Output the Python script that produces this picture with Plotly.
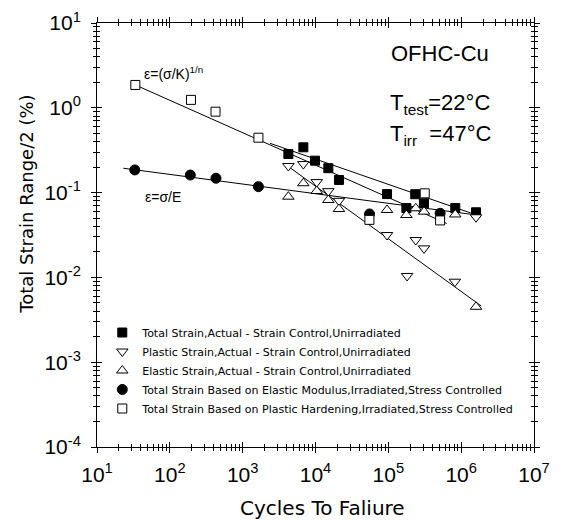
import plotly.graph_objects as go

# ---- data ----
tick_vals_x = [1e1, 1e2, 1e3, 1e4, 1e5, 1e6, 1e7]
tick_text_x = ["10<sup>1</sup>", "10<sup>2</sup>", "10<sup>3</sup>", "10<sup>4</sup>",
               "10<sup>5</sup>", "10<sup>6</sup>", "10<sup>7</sup>"]
tick_vals_y = [1e-4, 1e-3, 1e-2, 1e-1, 1e0, 1e1]
tick_text_y = ["10<sup>-4</sup>", "10<sup>-3</sup>", "10<sup>-2</sup>", "10<sup>-1</sup>",
               "10<sup>0</sup>", "10<sup>1</sup>"]

# Total strain, actual - strain control, unirradiated (filled squares)
tot_N = [4240, 6810, 9840, 1.50e4, 2.10e4, 9.6e4, 2.34e5, 1.77e5, 3.08e5, 8.3e5, 1.60e6]
tot_e = [0.285, 0.342, 0.238, 0.194, 0.141, 0.096, 0.0957, 0.0657, 0.0748, 0.0657, 0.0586]

# Plastic strain, actual (down triangles)
pla_N = [4240, 6810, 1.04e4, 1.50e4, 2.10e4, 9.6e4, 2.38e5, 3.09e5, 1.81e5, 8.2e5, 1.60e6]
pla_e = [0.206, 0.217, 0.133, 0.104, 0.080, 0.0316, 0.0276, 0.0220, 0.0104, 0.0089, 0.0512]

# Elastic strain, actual (up triangles)
ela_N = [4240, 6810, 1.04e4, 1.50e4, 2.10e4, 9.6e4, 1.77e5, 2.38e5, 3.09e5, 8.3e5, 1.60e6]
ela_e = [0.0895, 0.129, 0.1045, 0.0818, 0.064, 0.0624, 0.0544, 0.0653, 0.0596, 0.0552, 0.0045]

# Total strain based on elastic modulus, irradiated (filled circles)
emod_N = [33, 191, 430, 1645, 5.52e4, 5.14e5]
emod_e = [0.185, 0.161, 0.1476, 0.1175, 0.056, 0.057]

# Total strain based on plastic hardening, irradiated (open squares)
phard_N = [33.6, 195, 424, 1645, 3.16e5, 5.5e4, 5.14e5]
phard_e = [1.86, 1.24, 0.90, 0.444, 0.098, 0.0477, 0.047]

# Fit lines (end points)
fitK_N = [33.6, 6.33e5]
fitK_e = [1.86, 0.0432]
fitTot_N = [2380, 1.63e6]
fitTot_e = [0.381, 0.0544]
fitE_N = [23, 1.63e6]
fitE_e = [0.1937, 0.0544]
fitPla_N = [4240, 1.89e6]
fitPla_e = [0.203, 0.0046]

series_names = [
    "Total Strain,Actual - Strain Control,Unirradiated",
    "Plastic Strain,Actual - Strain Control,Unirradiated",
    "Elastic Strain,Actual - Strain Control,Unirradiated",
    "Total Strain Based on Elastic Modulus,Irradiated,Stress Controlled",
    "Total Strain Based on Plastic Hardening,Irradiated,Stress Controlled",
]

FONT = "Liberation Sans"
WIDE = "DejaVu Sans"
fig = go.Figure()

# fit lines on base axes (drawn below markers)
for xs, ys in [(fitK_N, fitK_e), (fitTot_N, fitTot_e), (fitE_N, fitE_e), (fitPla_N, fitPla_e)]:
    fig.add_trace(go.Scatter(x=xs, y=ys, mode="lines", line=dict(color="black", width=1),
                             showlegend=False, hoverinfo="skip", xaxis="x", yaxis="y"))

mk_line = dict(color="black", width=1)
marker_specs = [
    (tot_N, tot_e, dict(symbol="square", size=9, color="black", line=mk_line)),
    (pla_N, pla_e, dict(symbol="triangle-down", size=10, color="white", line=mk_line)),
    (ela_N, ela_e, dict(symbol="triangle-up", size=10, color="white", line=mk_line)),
    (emod_N, emod_e, dict(symbol="circle", size=10, color="black", line=mk_line)),
    (phard_N, phard_e, dict(symbol="square", size=9, color="white", line=mk_line)),
]
for (xs, ys, mk), name in zip(marker_specs, series_names):
    fig.add_trace(go.Scatter(x=xs, y=ys, mode="markers", marker=mk, name=name,
                             xaxis="x2", yaxis="y2"))

common_x = dict(type="log", range=[1, 7], showgrid=False, zeroline=False,
                showline=True, linecolor="black", linewidth=1, mirror="ticks",
                tickvals=tick_vals_x, tickcolor="black", tickwidth=1)
common_y = dict(type="log", range=[-4, 1], showgrid=False, zeroline=False,
                showline=True, linecolor="black", linewidth=1, mirror="ticks",
                tickvals=tick_vals_y, tickcolor="black", tickwidth=1)

fig.update_layout(
    width=564, height=522,
    margin=dict(l=96.5, r=29.5, t=23, b=75, autoexpand=False),
    paper_bgcolor="white", plot_bgcolor="white",
    font=dict(family=FONT, color="black"),
    xaxis=dict(**common_x, ticks="outside", ticklen=5, ticktext=tick_text_x,
               tickfont=dict(size=21, family=FONT), ticklabelstandoff=4,
               minor=dict(ticks="outside", ticklen=3, dtick="D1", tickcolor="black", showgrid=False)),
    yaxis=dict(**common_y, ticks="outside", ticklen=5, ticktext=tick_text_y,
               tickfont=dict(size=21, family=FONT), ticklabelstandoff=6,
               minor=dict(ticks="outside", ticklen=3, dtick="D1", tickcolor="black", showgrid=False)),
    xaxis2=dict(**common_x, overlaying="x", anchor="y2", side="bottom", ticks="inside", ticklen=5,
                showticklabels=False,
                minor=dict(ticks="inside", ticklen=3, dtick="D1", tickcolor="black", showgrid=False)),
    yaxis2=dict(**common_y, overlaying="y", anchor="x2", side="left", ticks="inside", ticklen=5,
                showticklabels=False,
                minor=dict(ticks="inside", ticklen=3, dtick="D1", tickcolor="black", showgrid=False)),
    legend=dict(x=0.0121, y=(447 - 318) / 424, xanchor="left", yanchor="top",
                bgcolor="rgba(0,0,0,0)",
                font=dict(size=11, family=WIDE), itemwidth=30, tracegroupgap=0),
    showlegend=True,
)

ann = [
    dict(text="ε=(σ/K)<sup>1/n</sup>", x=(142 - 96.5) / 438, y=(447 - 73) / 424, size=14),
    dict(text="ε=σ/E", x=(143 - 96.5) / 438, y=(447 - 197) / 424, size=14),
    dict(text="OFHC-Cu", x=(389 - 96.5) / 438, y=(447 - 54) / 424, size=22),
    dict(text="T<sub>test</sub>=22°C", x=(388 - 96.5) / 438, y=(447 - 104) / 424, size=22),
    dict(text="T<sub>irr</sub>  =47°C", x=(388 - 96.5) / 438, y=(447 - 135) / 424, size=22),
]
for a in ann:
    fig.add_annotation(text=a["text"], x=a["x"], y=a["y"], xref="paper", yref="paper",
                       xanchor="left", yanchor="middle", showarrow=False,
                       font=dict(size=a["size"], family=FONT, color="black"))

fig.add_annotation(text="Cycles To Faliure", x=(322.5 - 96.5) / 438, y=(447 - 508) / 424,
                   xref="paper", yref="paper", xanchor="center", yanchor="middle",
                   showarrow=False, font=dict(size=20, family=WIDE, color="black"))
fig.add_annotation(text="Total Strain Range/2 (%)", x=(25 - 96.5) / 438, y=(447 - 204) / 424,
                   xref="paper", yref="paper", xanchor="center", yanchor="middle", textangle=-90,
                   showarrow=False, font=dict(size=18, family=WIDE, color="black"))

fig.write_html("out.html", config={"displayModeBar": False},
               post_script="document.body.style.margin='0';document.body.style.padding='0';"
                           "document.body.style.overflow='hidden';")
